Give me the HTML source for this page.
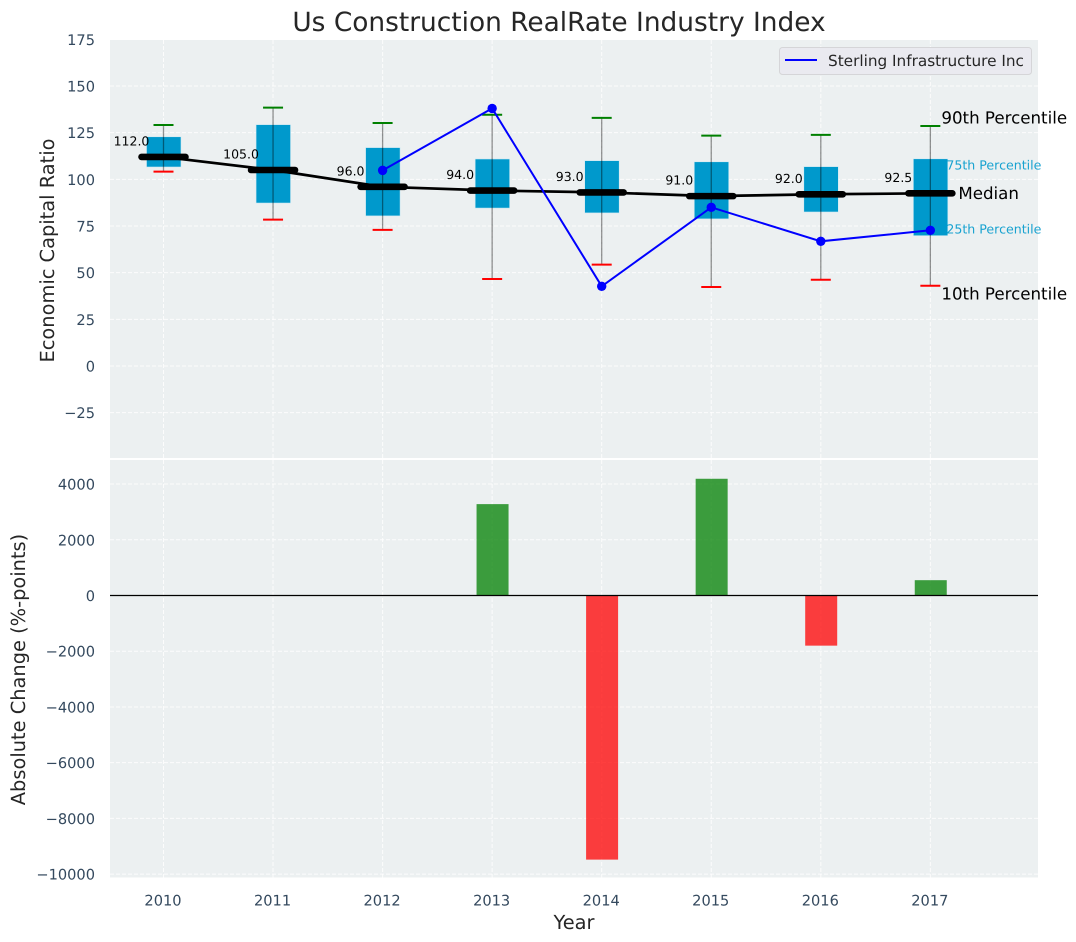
<!DOCTYPE html>
<html lang="en">
<head>
<meta charset="utf-8">
<title>Us Construction RealRate Industry Index</title>
<style>
html,body{margin:0;padding:0;background:#fff;}
svg{display:block;font-family:"DejaVu Sans","Liberation Sans",sans-serif;text-rendering:geometricPrecision;}
</style>
</head>
<body>
<svg id="chart" xmlns="http://www.w3.org/2000/svg" width="1076" height="942" viewBox="0 0 1076 942"></svg>
<script>
const years = [2010, 2011, 2012, 2013, 2014, 2015, 2016, 2017];
const p90 = [129.1, 138.4, 130.2, 134.6, 132.9, 123.4, 123.8, 128.6];
const p75 = [122.8, 129.3, 117, 110.9, 110, 109.4, 106.8, 111];
const medians = [112, 105, 96, 94, 93, 91, 92, 92.5];
const p25 = [106.6, 87.3, 80.4, 84.6, 82, 78.8, 82.5, 69.8];
const p10 = [104.1, 78.4, 72.9, 46.6, 54.3, 42.3, 46.2, 43];
const sterling = [null, null, 104.8, 138, 42.7, 85, 66.8, 72.7];
const changes = [null, null, null, 3280, -9480, 4190, -1800, 550];
const topTicks = [175, 150, 125, 100, 75, 50, 25, 0, -25];
const bottomTicks = [4000, 2000, 0, -2000, -4000, -6000, -8000, -10000];

const NS = 'http://www.w3.org/2000/svg';
const svg = document.getElementById('chart');
const L = 110, R = 1038;
const topT = 40, topB = 458, botT = 460, botB = 877.5;
const X = v => 163.5 + (v - 2010) * 109.55;
const Y1 = v => 366 - v * 1.8667;
const Y2 = v => 595.5 - v * 0.02786;
const fmtTick = v => String(v).replace('-', '\u2212');

function add(tag, attrs, text, parent) {
  const el = document.createElementNS(NS, tag);
  for (const k in attrs) el.setAttribute(k, attrs[k]);
  if (text !== undefined && text !== null) el.textContent = text;
  (parent || svg).appendChild(el);
  return el;
}
function group(name) {
  const g = add('g', {});
  
  
  return g;
}
const gridAttrs = {stroke: '#fff', 'stroke-width': 1, 'stroke-dasharray': '4 2', opacity: 0.85};

/* panel backgrounds */
const topPanel = add('rect', {x: L, y: topT, width: R - L, height: topB - topT, fill: '#ecf0f1'});


const botPanel = add('rect', {x: L, y: botT, width: R - L, height: botB - botT, fill: '#ecf0f1'});



/* grid */
const gridG = group('grid-lines');
years.forEach(y => {
  add('line', Object.assign({x1: X(y), x2: X(y), y1: topT, y2: topB}, gridAttrs), null, gridG);
  add('line', Object.assign({x1: X(y), x2: X(y), y1: botT, y2: botB}, gridAttrs), null, gridG);
});
topTicks.forEach(t => add('line', Object.assign({x1: L, x2: R, y1: Y1(t), y2: Y1(t)}, gridAttrs), null, gridG));
bottomTicks.forEach(t => add('line', Object.assign({x1: L, x2: R, y1: Y2(t), y2: Y2(t)}, gridAttrs), null, gridG));

/* tick labels */
const tickG = group('tick-labels');
const tickStyle = {fill: '#34495e', 'font-size': 14.6};
topTicks.forEach(t => {
  const el = add('text', Object.assign({x: 95, y: Y1(t) + 5.5, 'text-anchor': 'end'}, tickStyle), fmtTick(t), tickG);
  
  
});
bottomTicks.forEach(t => {
  const el = add('text', Object.assign({x: 95, y: Y2(t) + 5.5, 'text-anchor': 'end'}, tickStyle), fmtTick(t), tickG);
  
  
});
years.forEach(y => {
  const el = add('text', Object.assign({x: X(y) - 0.5, y: 905.5, 'text-anchor': 'middle'}, tickStyle), String(y), tickG);
  
  
});

/* boxes */
const boxG = group('percentile-boxes');
years.forEach((y, i) => {
  const box = add('rect', {x: X(y) - 17, y: Y1(p75[i]), width: 34.5, height: Y1(p25[i]) - Y1(p75[i]), fill: '#0099cc', stroke: '#cfeaf3', 'stroke-width': 0.6}, null, boxG);
  
  
});

/* median connecting line */
const medianLine = add('polyline', {points: years.map((y, i) => X(y) + ',' + Y1(medians[i])).join(' '), fill: 'none', stroke: '#000', 'stroke-width': 2.7});



/* whiskers and caps */
const whiskG = group('whiskers');
years.forEach((y, i) => {
  const w = add('line', {x1: X(y), x2: X(y), y1: Y1(p90[i]), y2: Y1(p10[i]), stroke: '#000', 'stroke-opacity': 0.42, 'stroke-width': 1.3}, null, whiskG);
  
  
  const hi = add('line', {x1: X(y) - 10, x2: X(y) + 10, y1: Y1(p90[i]), y2: Y1(p90[i]), stroke: '#008000', 'stroke-width': 2}, null, whiskG);
  
  
  const lo = add('line', {x1: X(y) - 10, x2: X(y) + 10, y1: Y1(p10[i]), y2: Y1(p10[i]), stroke: '#ff0000', 'stroke-width': 2}, null, whiskG);
  
  
});

/* median marks and labels */
const medG = group('median-marks');
years.forEach((y, i) => {
  const m = add('line', {x1: X(y) - 22, x2: X(y) + 22, y1: Y1(medians[i]), y2: Y1(medians[i]), stroke: '#000', 'stroke-width': 6.6, 'stroke-linecap': 'round'}, null, medG);
  
  
  const t = add('text', {x: X(y) - 32, y: Y1(medians[i]) - 11.5, 'text-anchor': 'middle', 'font-size': 12.5, fill: '#000'}, medians[i].toFixed(1), medG);
  
  
});

/* company series */
const serG = group('sterling-series');
const sterlingPts = years.map((y, i) => sterling[i] === null ? null : [X(y), Y1(sterling[i])]).filter(Boolean);
const serLine = add('polyline', {points: sterlingPts.map(p => p.join(',')).join(' '), fill: 'none', stroke: '#0000ff', 'stroke-width': 2}, null, serG);


sterlingPts.forEach(p => {
  const c = add('circle', {cx: p[0], cy: p[1], r: 4.7, fill: '#0000ff'}, null, serG);
  
  
});

/* percentile annotations, anchored to the last year */
const annG = group('percentile-annotations');
const last = years.length - 1;
const ax = X(years[last]);
const a90 = add('text', {x: ax + 11, y: Y1(p90[last]) - 2.6, 'font-size': 16.67, fill: '#000'}, '90th Percentile', annG);


const a75 = add('text', {x: ax + 16, y: Y1(p75[last]) + 10.5, 'font-size': 12.6, fill: '#0099cc', 'fill-opacity': 0.9}, '75th Percentile', annG);


const aMed = add('text', {x: ax + 28, y: Y1(medians[last]) + 5.5, 'font-size': 16.67, fill: '#000'}, 'Median', annG);


const a25 = add('text', {x: ax + 16, y: Y1(p25[last]) - 2.2, 'font-size': 12.6, fill: '#0099cc', 'fill-opacity': 0.9}, '25th Percentile', annG);


const a10 = add('text', {x: ax + 11, y: Y1(p10[last]) + 14, 'font-size': 16.67, fill: '#000'}, '10th Percentile', annG);



/* change bars */
const barG = group('change-bars');
years.forEach((y, i) => {
  if (changes[i] === null) return;
  const top = Math.min(Y2(0), Y2(changes[i]));
  const h = Math.abs(Y2(changes[i]) - Y2(0));
  const b = add('rect', {x: X(y) - 15.6, y: top, width: 32, height: h, fill: changes[i] >= 0 ? '#008000' : '#ff0000', 'fill-opacity': 0.75}, null, barG);
  
  
});
const zero = add('line', {x1: L, x2: R, y1: Y2(0), y2: Y2(0), stroke: '#000', 'stroke-width': 1.3});



/* titles */
const title = add('text', {x: 559, y: 31, 'text-anchor': 'middle', 'font-size': 26.4, fill: '#262626'}, 'Us Construction RealRate Industry Index');


const yt1 = add('text', {x: 0, y: 0, transform: 'translate(54,250.5) rotate(-90)', 'text-anchor': 'middle', 'font-size': 19.4, fill: '#262626'}, 'Economic Capital Ratio');


const yt2 = add('text', {x: 0, y: 0, transform: 'translate(25,669.5) rotate(-90)', 'text-anchor': 'middle', 'font-size': 19.4, fill: '#262626'}, 'Absolute Change (%-points)');


const xt = add('text', {x: 574, y: 929, 'text-anchor': 'middle', 'font-size': 19.4, fill: '#262626'}, 'Year');



/* legend */
const legend = group('legend');
add('rect', {x: 779.5, y: 47.5, width: 252, height: 27, rx: 3, fill: '#eaeaf0', stroke: '#d5d5d8', 'stroke-width': 1}, null, legend);
add('line', {x1: 785, x2: 817, y1: 60, y2: 60, stroke: '#0000ff', 'stroke-width': 2}, null, legend);
const legText = add('text', {x: 828, y: 66, 'font-size': 15.28, fill: '#262626'}, 'Sterling Infrastructure Inc', legend);


</script>
</body>
</html>
